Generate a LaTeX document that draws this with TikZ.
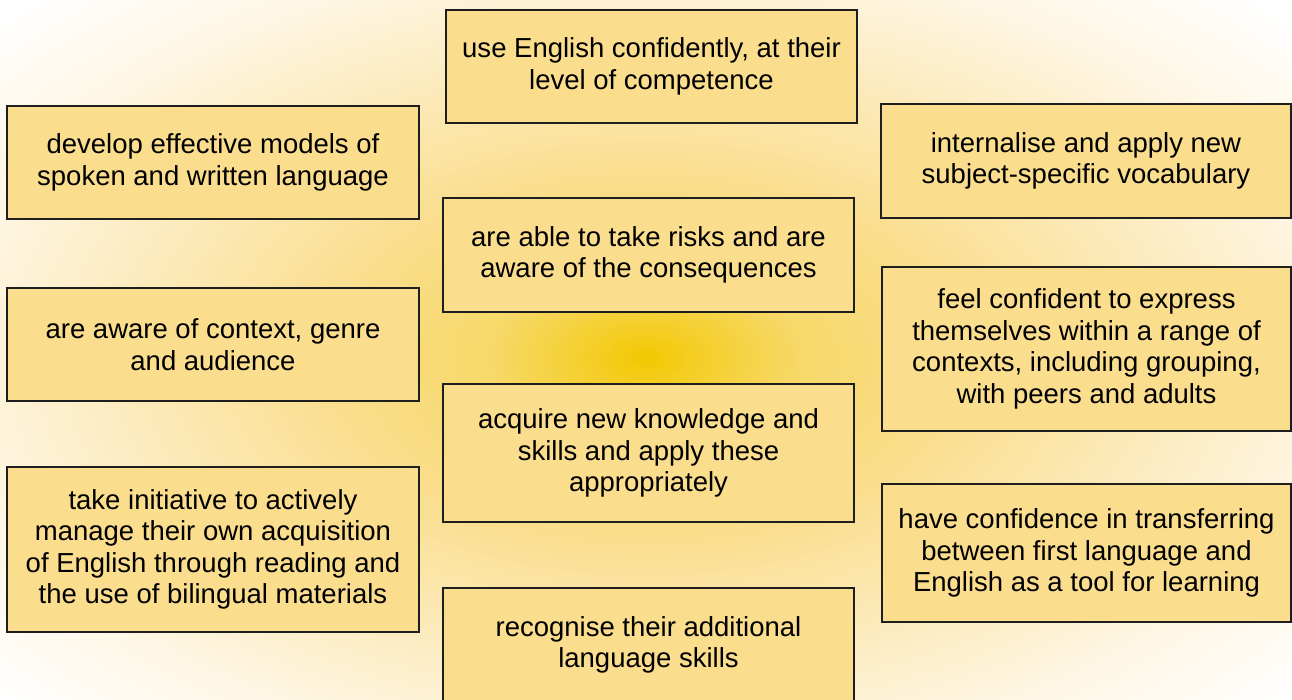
\documentclass[tikz,border=0pt]{standalone}
\usepackage{fontspec}
\setmainfont{Liberation Sans}
\definecolor{boxfill}{HTML}{FADE8E}
\definecolor{boxline}{HTML}{1E1E1E}
\definecolor{g0}{HTML}{F2C800}
\definecolor{g1}{HTML}{F4CE25}
\definecolor{g2}{HTML}{F7D868}
\definecolor{g3}{HTML}{FADF92}
\definecolor{g4}{HTML}{FCEABB}
\definecolor{g5}{HTML}{FEF6E3}
\pgfdeclareradialshading{glow}{\pgfpoint{0bp}{0bp}}{color(0bp)=(g0); color(1bp)=(g1); color(3bp)=(g2); color(6.5bp)=(g3); color(10bp)=(g4); color(13.5bp)=(g5); color(17bp)=(white); color(50bp)=(white)}
\tikzset{
  goalbox/.style={draw=boxline, line width=1.3pt, fill=boxfill, align=center, inner sep=0pt,
    font=\fontsize{27.5}{31.5}\selectfont},
}
\begin{document}
\begin{tikzpicture}[x=1pt,y=-1pt]
\useasboundingbox (0,0) rectangle (1292,699);
\fill[white] (0,0) rectangle (1292,699);
\shade[shading=glow] (645-1280,358-740) rectangle (645+1280,358+740);
\node[goalbox, minimum width=411pt, minimum height=113pt] (top) at (651.5,66.5) {use English confidently, at their\\level of competence};
\node[goalbox, minimum width=412pt, minimum height=113pt] (l1) at (213,162.5) {develop effective models of\\spoken and written language};
\node[goalbox, minimum width=410pt, minimum height=114pt] (r1) at (1086,161) {internalise and apply new\\subject-specific vocabulary};
\node[goalbox, minimum width=411pt, minimum height=114pt] (c2) at (648.5,255) {are able to take risks and are\\aware of the consequences};
\node[goalbox, minimum width=412pt, minimum height=113pt] (l2) at (213,344.5) {are aware of context, genre\\and audience};
\node[goalbox, minimum width=409pt, minimum height=164pt] (r2) at (1086.5,349) {feel confident to express\\themselves within a range of\\contexts, including grouping,\\with peers and adults};
\node[goalbox, minimum width=411pt, minimum height=138pt] (c3) at (648.5,453) {acquire new knowledge and\\skills and apply these\\appropriately};
\node[goalbox, minimum width=412pt, minimum height=165pt] (l3) at (213,549.5) {take initiative to actively\\manage their own acquisition\\of English through reading and\\the use of bilingual materials};
\node[goalbox, minimum width=409pt, minimum height=138pt] (r3) at (1086.5,553) {have confidence in transferring\\between first language and\\English as a tool for learning};
\node[goalbox, minimum width=411pt, minimum height=114pt] (bot) at (648.5,645) {recognise their additional\\language skills};
\end{tikzpicture}
\end{document}
